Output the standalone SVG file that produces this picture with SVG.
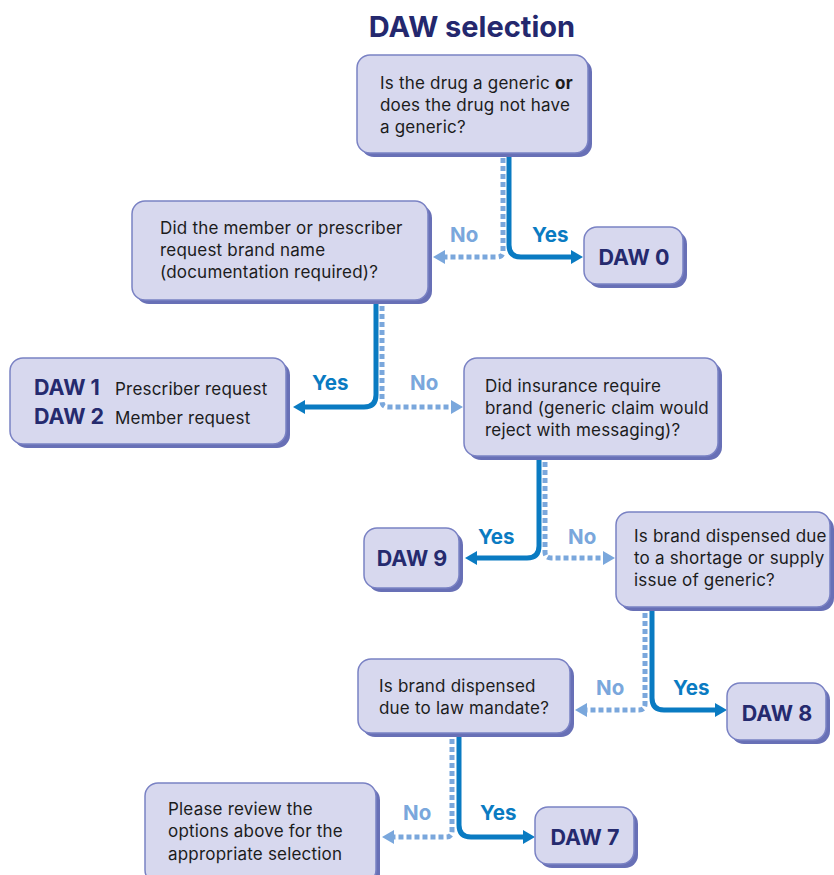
<svg xmlns="http://www.w3.org/2000/svg" width="834" height="875" viewBox="0 0 834 875">
<defs>
<style>
.sh{fill:#6870b6}
.bx{fill:#d7d8ee;stroke:#7a82c4;stroke-width:1.5}
.t{font-family:Inter,"Open Sans",sans-serif;font-size:17px;letter-spacing:0.2px;fill:#1c1c1c}
.d{font-family:Inter,"Open Sans",sans-serif;font-size:21.5px;font-weight:700;fill:#252a6e}
.yes{font-family:Inter,"Open Sans",sans-serif;font-size:20.5px;font-weight:700;fill:#0a7bc2}
.no{font-family:Inter,"Open Sans",sans-serif;font-size:20.5px;font-weight:700;fill:#7aa7dc}
.cy{fill:none;stroke:#0a7bc2;stroke-width:5}
.cn{fill:none;stroke:#7aa7dc;stroke-width:5;stroke-dasharray:5 3}
</style>
<marker id="ay" viewBox="0 0 12 14" refX="0" refY="7" markerWidth="12" markerHeight="14" markerUnits="userSpaceOnUse" orient="auto"><path d="M0,0 L12,7 L0,14 z" fill="#0a7bc2"/></marker>
<marker id="an" viewBox="0 0 12 14" refX="0" refY="7" markerWidth="12" markerHeight="14" markerUnits="userSpaceOnUse" orient="auto"><path d="M0,0 L12,7 L0,14 z" fill="#7aa7dc"/></marker>
</defs>
<rect width="834" height="875" fill="#ffffff"/>
<text x="472" y="37" text-anchor="middle" font-family="Inter,'Open Sans',sans-serif" font-size="29" font-weight="700" fill="#24286e">DAW selection</text>

<g id="connectors">
<path class="cy" d="M509,150 V245 Q509,257 521,257 H571" marker-end="url(#ay)"/>
<path class="cn" d="M503,150 V251 Q503,257 497,257 H445" marker-end="url(#an)"/>
<path class="cy" d="M376,298 V395 Q376,407 364,407 H305" marker-end="url(#ay)"/>
<path class="cn" d="M382,298 V401 Q382,407 388,407 H451" marker-end="url(#an)"/>
<path class="cy" d="M539,454 V546 Q539,558 527,558 H477" marker-end="url(#ay)"/>
<path class="cn" d="M545,454 V552 Q545,558 551,558 H603" marker-end="url(#an)"/>
<path class="cy" d="M652,605 V698 Q652,710 664,710 H715" marker-end="url(#ay)"/>
<path class="cn" d="M645,605 V704 Q645,710 639,710 H587" marker-end="url(#an)"/>
<path class="cy" d="M459,731 V825 Q459,837 471,837 H523" marker-end="url(#ay)"/>
<path class="cn" d="M452,731 V831 Q452,837 446,837 H394" marker-end="url(#an)"/>
<text class="no" x="450" y="242">No</text>
<text class="yes" x="532" y="242">Yes</text>
<text class="yes" x="312" y="390">Yes</text>
<text class="no" x="410" y="390">No</text>
<text class="yes" x="478" y="544">Yes</text>
<text class="no" x="568" y="544">No</text>
<text class="no" x="596" y="695">No</text>
<text class="yes" x="673" y="695">Yes</text>
<text class="no" x="403" y="820">No</text>
<text class="yes" x="480" y="820">Yes</text>
</g>

<g id="q1">
<rect class="sh" x="361" y="59" width="231" height="98" rx="13"/>
<rect class="bx" x="357" y="55" width="231" height="98" rx="13"/>
<text class="t" x="380" y="89">Is the drug a generic <tspan font-weight="700">or</tspan></text>
<text class="t" x="380" y="111">does the drug not have</text>
<text class="t" x="380" y="133">a generic?</text>
</g>

<g id="daw0">
<rect class="sh" x="588" y="231" width="99" height="57" rx="13"/>
<rect class="bx" x="584" y="227" width="99" height="57" rx="13"/>
<text class="d" x="634" y="265" text-anchor="middle">DAW 0</text>
</g>

<g id="q2">
<rect class="sh" x="136" y="205" width="296" height="99" rx="13"/>
<rect class="bx" x="132" y="201" width="296" height="99" rx="13"/>
<text class="t" x="160" y="234">Did the member or prescriber</text>
<text class="t" x="160" y="256">request brand name</text>
<text class="t" x="160" y="278">(documentation required)?</text>
</g>

<g id="daw12">
<rect class="sh" x="14" y="362" width="276" height="86" rx="13"/>
<rect class="bx" x="10" y="358" width="276" height="86" rx="13"/>
<text class="d" x="34" y="395">DAW 1</text>
<text class="t" x="115" y="395">Prescriber request</text>
<text class="d" x="34" y="424">DAW 2</text>
<text class="t" x="115" y="424">Member request</text>
</g>

<g id="q3">
<rect class="sh" x="468" y="362" width="254" height="98" rx="13"/>
<rect class="bx" x="464" y="358" width="254" height="98" rx="13"/>
<text class="t" x="485" y="392">Did insurance require</text>
<text class="t" x="485" y="414">brand (generic claim would</text>
<text class="t" x="485" y="436">reject with messaging)?</text>
</g>

<g id="daw9">
<rect class="sh" x="368" y="532" width="95" height="60" rx="13"/>
<rect class="bx" x="364" y="528" width="95" height="60" rx="13"/>
<text class="d" x="412" y="566" text-anchor="middle">DAW 9</text>
</g>

<g id="q4">
<rect class="sh" x="620" y="516" width="214" height="95" rx="13"/>
<rect class="bx" x="616" y="512" width="214" height="95" rx="13"/>
<text class="t" x="634" y="542">Is brand dispensed due</text>
<text class="t" x="634" y="564">to a shortage or supply</text>
<text class="t" x="634" y="586">issue of generic?</text>
</g>

<g id="daw8">
<rect class="sh" x="731" y="687" width="99" height="57" rx="13"/>
<rect class="bx" x="727" y="683" width="99" height="57" rx="13"/>
<text class="d" x="777" y="721" text-anchor="middle">DAW 8</text>
</g>

<g id="q5">
<rect class="sh" x="362" y="663" width="212" height="74" rx="13"/>
<rect class="bx" x="358" y="659" width="212" height="74" rx="13"/>
<text class="t" x="379" y="692">Is brand dispensed</text>
<text class="t" x="379" y="714">due to law mandate?</text>
</g>

<g id="daw7">
<rect class="sh" x="539" y="811" width="99" height="57" rx="13"/>
<rect class="bx" x="535" y="807" width="99" height="57" rx="13"/>
<text class="d" x="585" y="845" text-anchor="middle">DAW 7</text>
</g>

<g id="review">
<rect class="sh" x="149" y="787" width="231" height="100" rx="13"/>
<rect class="bx" x="145" y="783" width="231" height="100" rx="13"/>
<text class="t" x="168" y="815">Please review the</text>
<text class="t" x="168" y="837">options above for the</text>
<text class="t" x="168" y="860">appropriate selection</text>
</g>
</svg>
